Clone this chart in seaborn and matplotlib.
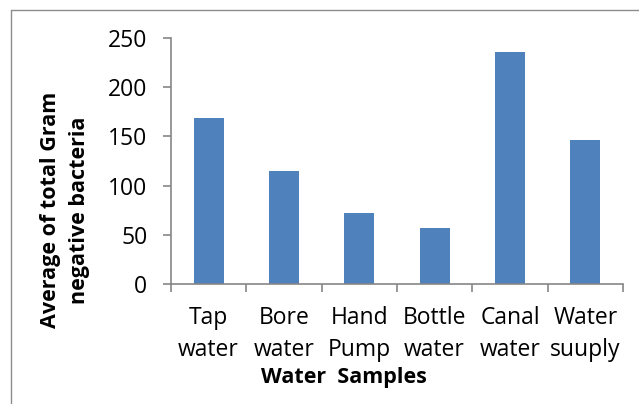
import numpy as np
import pandas as pd
import seaborn as sns
import matplotlib
matplotlib.use("Agg")
import matplotlib.pyplot as plt
from matplotlib.lines import Line2D

# Data
samples = ["Tap\nwater", "Bore\nwater", "Hand\nPump", "Bottle\nwater", "Canal\nwater", "Water\nsuuply"]
avg_bacteria = [169, 115, 72, 57, 236, 146]
y_ticks = [0, 50, 100, 150, 200, 250]

df = pd.DataFrame({"sample": samples, "value": avg_bacteria})

sns.set_theme(style="white")
plt.rcParams["font.family"] = ["Open Sans", "DejaVu Sans"]

W, H = 639, 404
fig = plt.figure(figsize=(W / 100, H / 100), dpi=100)
fig.patch.set_facecolor("white")
ax = fig.add_axes([171 / W, 1 - 283.7 / H, (623 - 171) / W, (283.7 - 38.3) / H])

sns.barplot(data=df, x="sample", y="value", color="#4F81BD", saturation=1,
            width=0.4, ax=ax, edgecolor="#4F81BD", linewidth=0)

axis_gray = "#868686"
ax.set_ylim(0, 250)
ax.set_xlim(-0.5, len(samples) - 0.5)
ax.set_yticks(y_ticks)
ax.set_yticklabels([str(v) for v in y_ticks])
ax.set_xticks(np.arange(len(samples)))
ax.set_xticklabels(samples, linespacing=1.45)
ax.set_xticks(np.arange(-0.5, len(samples), 1), minor=True)

for side in ["top", "right"]:
    ax.spines[side].set_visible(False)
for side in ["left", "bottom"]:
    ax.spines[side].set_color(axis_gray)
    ax.spines[side].set_linewidth(1.2)

ax.tick_params(axis="y", which="major", left=True, length=6, width=1.2, color=axis_gray,
               labelsize=16.5, labelcolor="black", pad=11)
ax.tick_params(axis="x", which="major", bottom=False, length=0, labelsize=16.5,
               labelcolor="black", pad=16)
ax.tick_params(axis="x", which="minor", bottom=True, length=6, width=1.2, color=axis_gray)
ax.set_xlabel("")
ax.set_ylabel("")

fig.text(65 / W, 1 - 210 / H, "Average of total Gram\nnegative bacteria", rotation=90,
         ha="center", va="center", multialignment="center", fontsize=15.5,
         fontweight="bold", color="black", linespacing=1.45)
fig.text(344 / W, 1 - 377 / H, "Water  Samples", ha="center", va="center",
         fontsize=15.5, fontweight="bold", color="black")

# Chart area frame (top and left edges)
fig.add_artist(Line2D([11 / W, 1.0], [1 - 10 / H, 1 - 10 / H], transform=fig.transFigure,
                      color="#8C8C8C", linewidth=1.0))
fig.add_artist(Line2D([11 / W, 11 / W], [0.0, 1 - 10 / H], transform=fig.transFigure,
                      color="#8C8C8C", linewidth=1.0))

fig.savefig("out.png", dpi=100)
